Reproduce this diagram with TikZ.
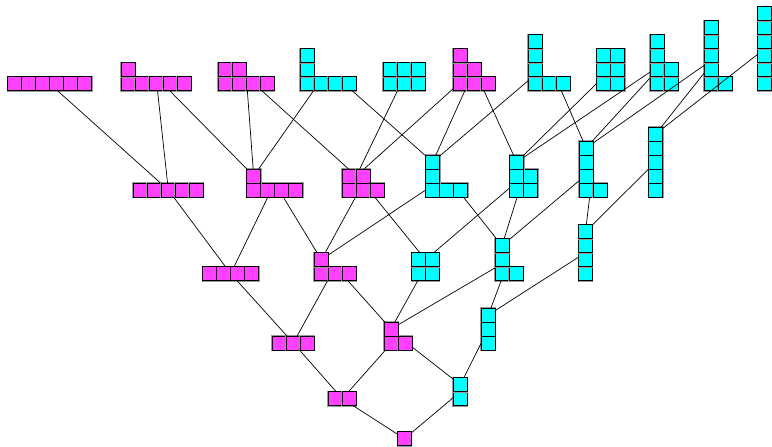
\documentclass[tikz,border=0pt]{standalone}
\usepackage{tikz}

\definecolor{strictcol}{RGB}{255,64,255}
\definecolor{othercol}{RGB}{0,255,255}

\tikzset{
  partbox/.style={rectangle, anchor=south west, inner sep=0pt, outer sep=0pt,
    minimum width=#1},
  cell/.style={draw=black, line width=0.9pt, preaction={draw=black!40, line width=1.8pt}},
  link/.style={draw=black, line width=0.7pt},
}

% young diagram: name, south west corner, fill, columns, rows, row lengths from the bottom
% (#1) is the whole diagram, (#1-top) its top row
\newcommand{\young}[6]{%
  \node[partbox=#4*14pt, minimum height=#5*14pt] (#1) at #2 {};
  \foreach \len [count=\r from 0] in {#6} {
    \foreach \c in {1,...,\len}
      \draw[cell, fill=#3] ([shift={(\c*14-14,\r*14)}]#1.south west) rectangle +(14,14);
    \xdef\toplen{\len}\xdef\toprow{\r}
  }
  \node[partbox=\toplen*14pt, minimum height=14pt] (#1-top) at ([yshift=\toprow*14pt]#1.south west) {};
}

\begin{document}
\begin{tikzpicture}[x=1pt, y=1pt]
    \useasboundingbox (0,0) rectangle (772,447);

    % size 1 and 2
    \young{p1}{(397.5,1.3)}{strictcol}{1}{1}{1}
    \young{p2}{(328.3,41.3)}{strictcol}{2}{1}{2}
    \young{p11}{(453.3,41.3)}{othercol}{1}{2}{1,1}
    % size 3
    \young{p3}{(272.3,97)}{strictcol}{3}{1}{3}
    \young{p21}{(384,97)}{strictcol}{2}{2}{2,1}
    \young{p111}{(481.3,97)}{othercol}{1}{3}{1,1,1}
    % size 4
    \young{p4}{(202.7,166.3)}{strictcol}{4}{1}{4}
    \young{p31}{(314.3,166.3)}{strictcol}{3}{2}{3,1}
    \young{p22}{(411.5,166.3)}{othercol}{2}{2}{2,2}
    \young{p211}{(495,166.3)}{othercol}{2}{3}{2,1,1}
    \young{p1111}{(578.5,166.3)}{othercol}{1}{4}{1,1,1,1}
    % size 5
    \young{p5}{(133.3,250)}{strictcol}{5}{1}{5}
    \young{p41}{(246.7,250)}{strictcol}{4}{2}{4,1}
    \young{p32}{(342.3,250)}{strictcol}{3}{2}{3,2}
    \young{p311}{(425.7,250)}{othercol}{3}{3}{3,1,1}
    \young{p221}{(509.7,250)}{othercol}{2}{3}{2,2,1}
    \young{p2111}{(579,250)}{othercol}{2}{4}{2,1,1,1}
    \young{p11111}{(648.7,250)}{othercol}{1}{5}{1,1,1,1,1}
    % size 6
    \young{p6}{(7.7,356.3)}{strictcol}{6}{1}{6}
    \young{p51}{(121,356.3)}{strictcol}{5}{2}{5,1}
    \young{p42}{(218.3,356.3)}{strictcol}{4}{2}{4,2}
    \young{p411}{(300.3,356.3)}{othercol}{4}{3}{4,1,1}
    \young{p33}{(383.3,356.3)}{othercol}{3}{2}{3,3}
    \young{p321}{(453.3,356.3)}{strictcol}{3}{3}{3,2,1}
    \young{p3111}{(528.3,356.3)}{othercol}{3}{4}{3,1,1,1}
    \young{p222}{(596.7,356.3)}{othercol}{2}{3}{2,2,2}
    \young{p2211}{(650,356.3)}{othercol}{2}{4}{2,2,1,1}
    \young{p21111}{(704,356.3)}{othercol}{2}{5}{2,1,1,1,1}
    \young{p111111}{(757.8,356.3)}{othercol}{1}{6}{1,1,1,1,1,1}

    % covering relations
    \foreach \a/\b in {p1/p2, p1/p11, p2/p3, p2/p21, p11/p21, p11/p111,
        p3/p4, p3/p31, p21/p31, p21/p22, p21/p211, p111/p211, p111/p1111,
        p4/p5, p4/p41, p31/p41, p31/p32, p31/p311, p22/p32, p22/p221,
        p211/p311, p211/p221, p211/p2111, p1111/p2111, p1111/p11111,
        p5/p6, p5/p51, p41/p51, p41/p42, p41/p411, p32/p42, p32/p33, p32/p321,
        p311/p411, p311/p321, p311/p3111, p221/p321, p221/p222, p221/p2211,
        p2111/p3111, p2111/p2211, p2111/p21111, p11111/p21111, p11111/p111111}
      \draw[link] (\a-top) -- (\b);
\end{tikzpicture}
\end{document}
